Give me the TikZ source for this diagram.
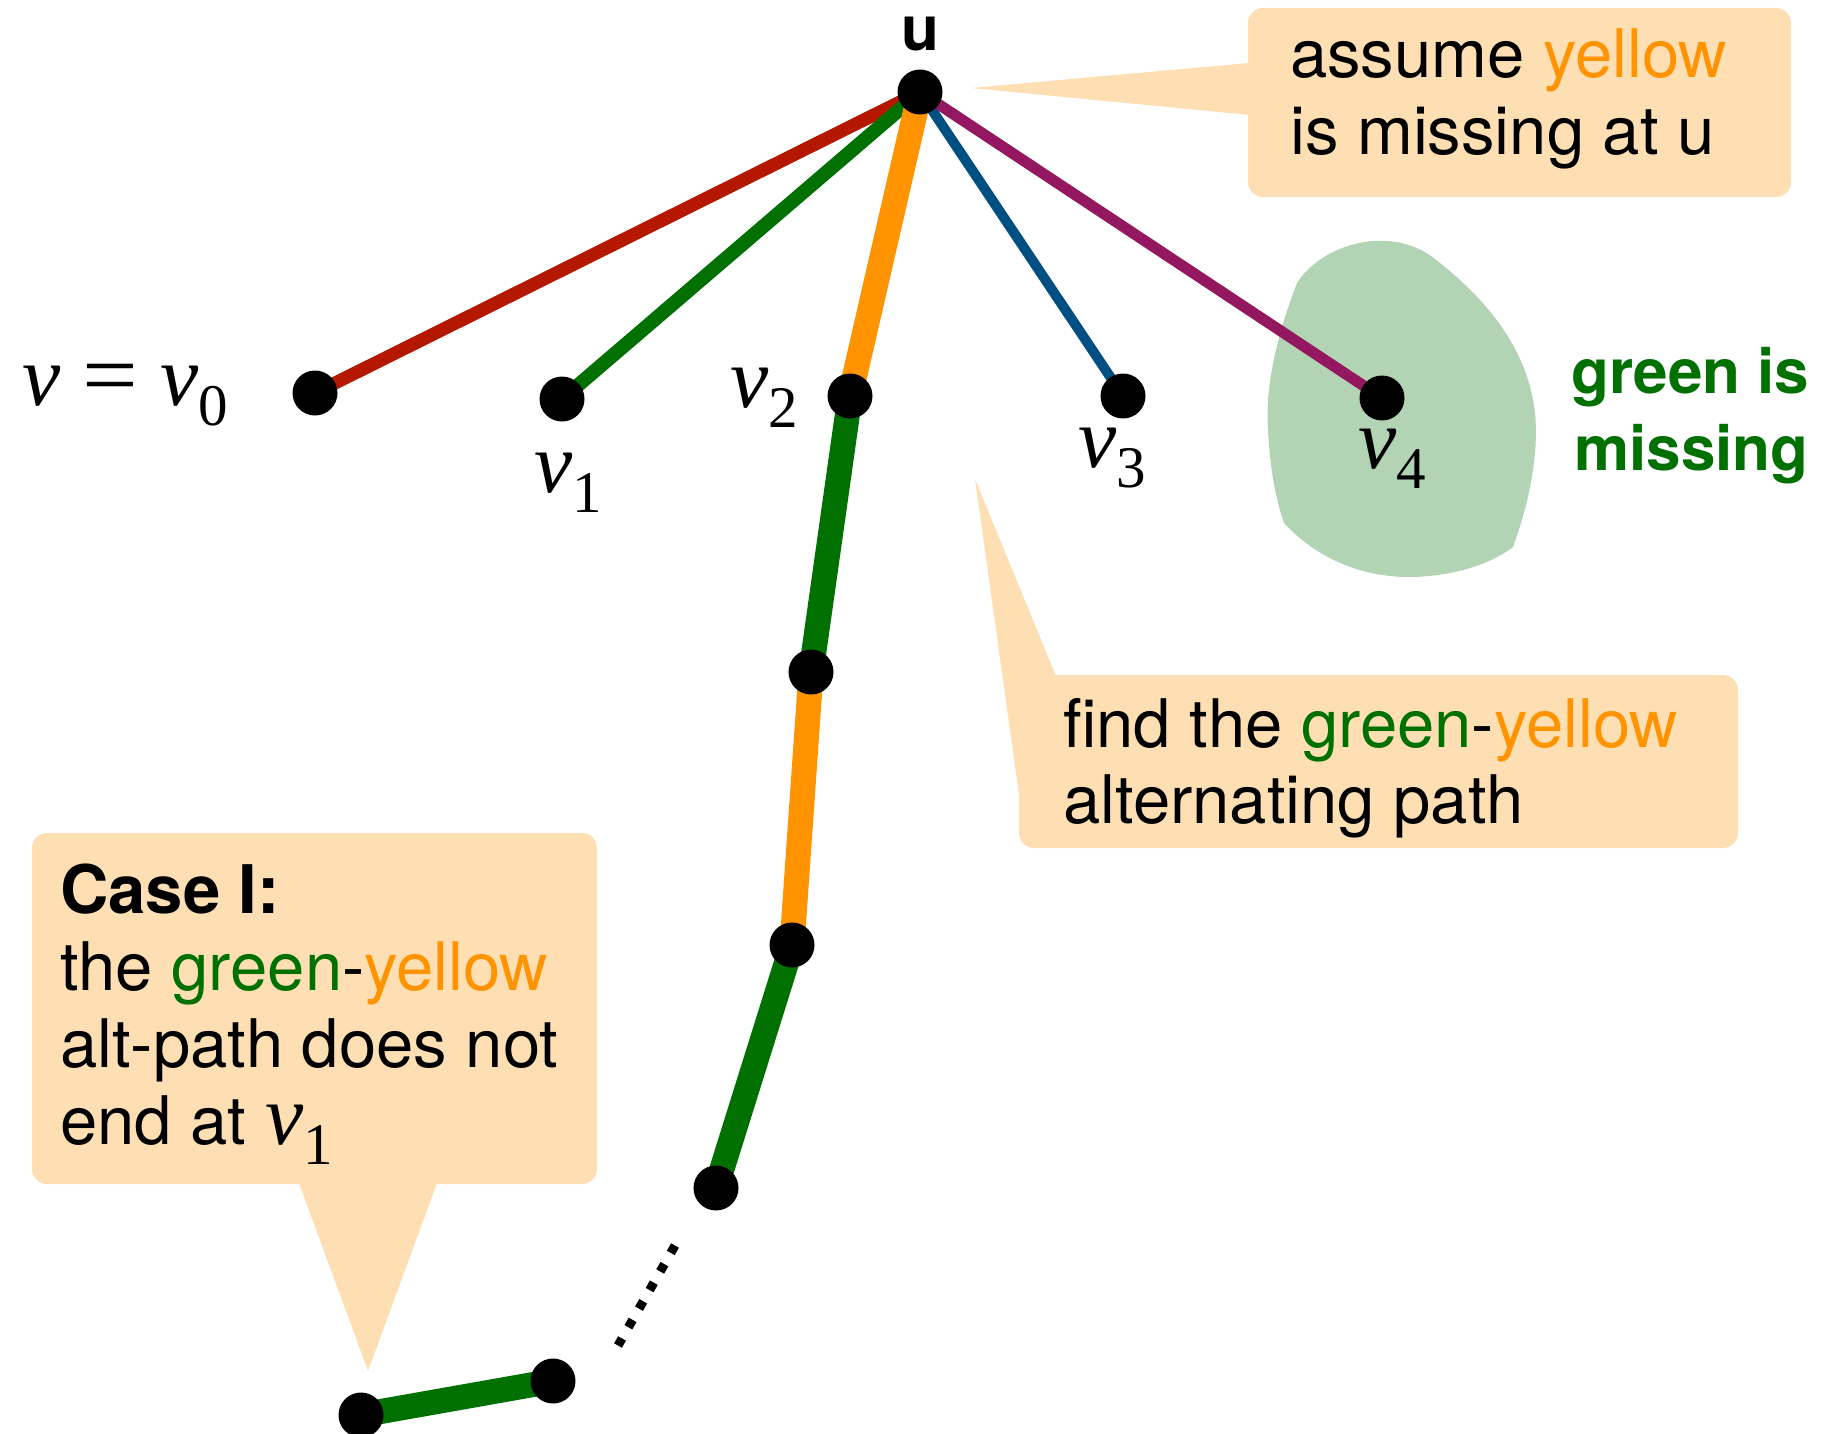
\documentclass[tikz,border=0pt]{standalone}
\usepackage{fontspec}
\setmainfont{TeX Gyre Heros}
\newfontfamily\tms{Liberation Serif}
\definecolor{cred}{HTML}{B41800}
\definecolor{cgreen}{HTML}{007000}
\definecolor{corange}{HTML}{FF9300}
\definecolor{cblue}{HTML}{004F83}
\definecolor{cpurple}{HTML}{941860}
\definecolor{peach}{HTML}{FEDFB3}
\definecolor{blob}{HTML}{B3D4B4}
\pgfdeclarelayer{back}
\pgfdeclarelayer{edges}
\pgfsetlayers{back,edges,main}
\newcommand\vlab[1]{{\tms\itshape v}\raisebox{-20pt}{\tms\fontsize{59}{59}\selectfont #1}}
\tikzset{
  vdot/.style={circle, fill=black, inner sep=0pt, minimum size=45pt},
  lbl/.style={inner sep=0pt, anchor=base west},
  vfont/.style={lbl, font=\fontsize{86}{90}\selectfont},
  boxtext/.style={lbl, font=\fontsize{67}{77}\selectfont},
  boldtext/.style={lbl, font=\fontsize{62}{74}\selectfont\bfseries},
  bubble/.style={fill=peach},
  thin edge/.style={line width=#1},
  thick edge/.style={line width=25pt},
}
\begin{document}
\begin{tikzpicture}[x=1pt,y=-1pt]
\useasboundingbox (0,0) rectangle (1825,1434);

% vertices
\node[vdot] (u)  at (920,92)  {};
\node[vdot] (v0) at (315,393) {};
\node[vdot] (v1) at (562,399) {};
\node[vdot] (v2) at (850,396) {};
\node[vdot] (v3) at (1123,396) {};
\node[vdot] (v4) at (1382,398) {};
\node[vdot] (p1) at (811,672) {};
\node[vdot] (p2) at (792,945) {};
\node[vdot] (p3) at (716,1188) {};
\node[vdot] (p4) at (553,1381) {};
\node[vdot] (p5) at (361,1415) {};
\coordinate (d1) at (675,1245.5);
\coordinate (d2) at (618,1345.5);

% backgrounds: blob and callouts
\begin{pgfonlayer}{back}
\fill[blob] (1284,523) .. controls (1318,560) and (1365,578) .. (1413,577)
  .. controls (1450,576) and (1488,566) .. (1513,547)
  .. controls (1532,495) and (1541,440) .. (1533,400)
  .. controls (1522,340) and (1480,295) .. (1440,263)
  .. controls (1418,244) and (1396,240) .. (1374,241)
  .. controls (1340,243) and (1310,262) .. (1297,283)
  .. controls (1275,340) and (1265,390) .. (1268,430)
  .. controls (1270,470) and (1276,500) .. (1284,523) -- cycle;
\fill[bubble, rounded corners=15pt] (1248,8) rectangle (1791,197);
\fill[bubble] (1260,62) -- (971,88) -- (1260,116) -- cycle;
\fill[bubble, rounded corners=15pt] (1019,675) rectangle (1738,848);
\fill[bubble] (975,479) -- (1056,676) -- (1056,795) -- (1019,795) -- cycle;
\fill[bubble, rounded corners=15pt] (32,833) rectangle (597,1184);
\fill[bubble] (296,1175) -- (368,1371) -- (440,1175) -- cycle;
\end{pgfonlayer}

% edges
\begin{pgfonlayer}{edges}
\draw[thin edge=13pt, cred] (u.center) -- (v0.center);
\draw[thin edge=14pt, cgreen] (u.center) -- (v1.center);
\draw[thick edge, corange] (u.center) -- (v2.center);
\draw[thin edge=10pt, cblue] (u.center) -- (v3.center);
\draw[thin edge=11pt, cpurple] (u.center) -- (v4.center);
\draw[thick edge, cgreen] (v2.center) -- (p1.center);
\draw[thick edge, corange] (p1.center) -- (p2.center);
\draw[thick edge, cgreen] (p2.center) -- (p3.center);
\draw[thick edge, cgreen] (p4.center) -- (p5.center);
\draw[line width=9pt, dash pattern=on 8.5pt off 12.9pt] (d1) -- (d2);
\end{pgfonlayer}

% vertex labels
\node[boldtext, anchor=base] (lu) at (920,51) {u};
\node[vfont] (l0) at (22,405) {{\tms\itshape v}\hspace{22pt}\scalebox{1.15}[1.05]{\tms =}\hspace{22pt}\vlab{0}};
\node[vfont] (l1) at (534,492) {\vlab{1}};
\node[vfont] (l2) at (730,407) {\vlab{2}};
\node[vfont] (l3) at (1078,467) {\vlab{3}};
\node[vfont] (l4) at (1358,468) {\vlab{4}};

% green is missing
\node[boldtext, text=cgreen] (g1) at (1571,393) {green is};
\node[boldtext, text=cgreen] (g2) at (1574,470) {missing};

% callout texts
\node[boxtext] (a1) at (1290,78) {assume {\color{corange}yellow}};
\node[boxtext] (a2) at (1290,155) {is missing at u};
\node[boxtext] (f1) at (1063,747) {find the {\color{cgreen}green}-{\color{corange}yellow}};
\node[boxtext] (f2) at (1063,823) {alternating path};
\node[boxtext, font=\fontsize{67}{77}\selectfont\bfseries] (c1) at (60,913) {Case I:};
\node[boxtext] (c2) at (60,990) {the {\color{cgreen}green}-{\color{corange}yellow}};
\node[boxtext] (c3) at (60,1067) {alt-path does not};
\node[boxtext] (c4) at (60,1144) {end at \fontsize{86}{90}\selectfont\vlab{1}};
\end{tikzpicture}
\end{document}
